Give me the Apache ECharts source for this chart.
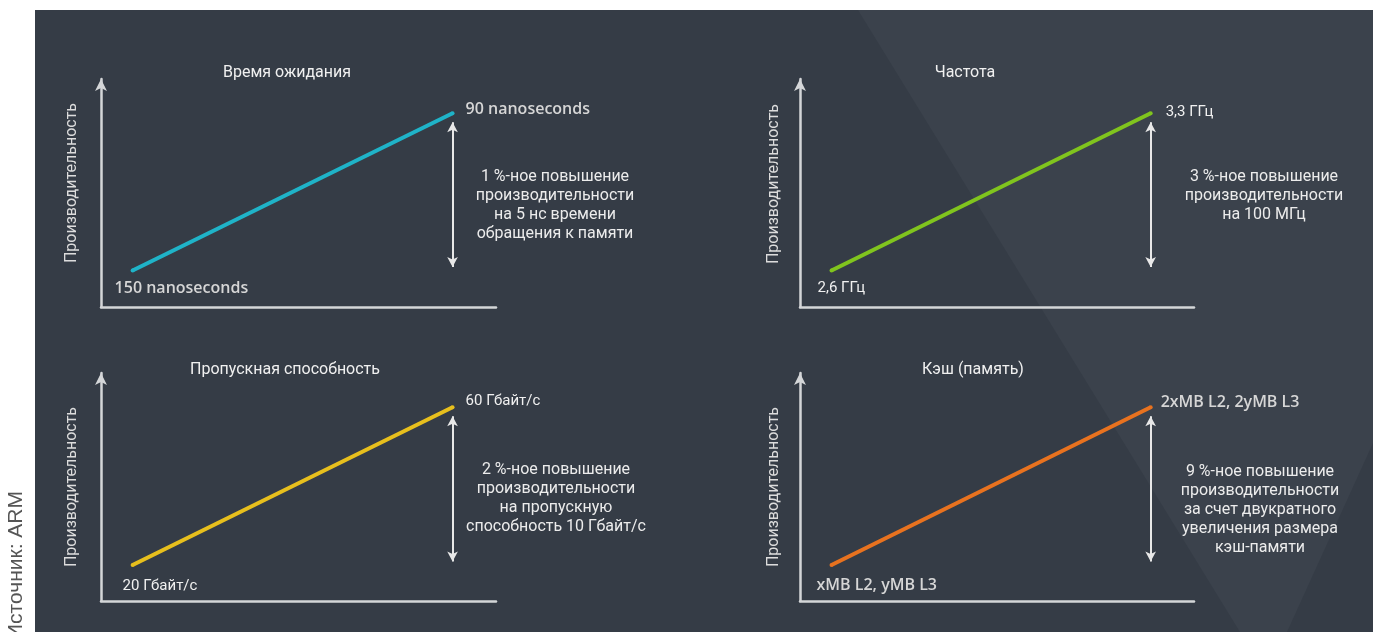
<!DOCTYPE html>
<html>
<head>
<meta charset="utf-8">
<style>html,body{margin:0;padding:0;background:#fff;}#c{width:1373px;height:632px;}</style>
<script src="https://cdn.jsdelivr.net/npm/echarts@6/dist/echarts.min.js"></script>
</head>
<body>
<div id="c"></div>
<script>
// ---- data ----
const titles = ['Время ожидания', 'Частота', 'Пропускная способность', 'Кэш (память)'];
const yAxisName = 'Производительность';
const lowLabels = ['150 nanoseconds', '2,6 ГГц', '20 Гбайт/с', 'xMB L2, yMB L3'];
const highLabels = ['90 nanoseconds', '3,3 ГГц', '60 Гбайт/с', '2xMB L2, 2yMB L3'];
const notes = [
  '1 %-ное повышение\nпроизводительности\nна 5 нс времени\nобращения к памяти',
  '3 %-ное повышение\nпроизводительности\nна 100 МГц',
  '2 %-ное повышение\nпроизводительности\nна пропускную\nспособность 10 Гбайт/с',
  '9 %-ное повышение\nпроизводительности\nза счет двукратного\nувеличения размера\nкэш-памяти'
];
// relative positions (0-100) on the schematic axes
const xLow = [8, 8, 8, 8];
const xHigh = [89, 89, 89, 89];
const perfLow = [16, 16, 15.8, 15.8];
const perfHigh = [85, 85, 85, 85];
const source = 'Источник: ARM';

// ---- styles / layout ----
const lineColors = ['#1fb3c8', '#80c41e', '#e7bf1d', '#e8721f'];
const grids = [
  {left: 101, top: 79, width: 395, height: 228},
  {left: 800, top: 79, width: 394, height: 228},
  {left: 101, top: 373, width: 395, height: 228},
  {left: 800, top: 373, width: 394, height: 228}
];
const titleX = [282, 960, 280, 968];
const titleTop = [60, 60, 357, 357];
const noteX = [555, 1264, 556, 1260];
const noteTop = [167, 167, 460, 462];
const nameGaps = [21, 18, 21, 18];
const namePad = [20, 18, 0, 0];
const lowOffset = [[-18, 3], [-14, 3], [-10, 7], [-15, 5]];
const highOffset = [[6, -4], [8, -1], [6, -6], [3, -5]];
const calibriLike = [true, false, false, true];

const chart = echarts.init(document.getElementById('c'), null, {renderer: 'canvas'});

const axisLineColor = '#d4d6d8';
const xAxes = [], yAxes = [], series = [], titleArr = [], graphics = [];

graphics.push({type: 'rect', z: -10, silent: true, shape: {x: 35, y: 10, width: 1373 - 35, height: 632 - 10}, style: {fill: '#353c46'}});
graphics.push({type: 'polygon', z: -9, silent: true, shape: {points: [[858, 10], [1373, 10], [1373, 443], [1287, 632], [1240, 632]]}, style: {fill: '#3b424c'}});
graphics.push({type: 'text', z: 5, silent: true, rotation: Math.PI / 2, x: 6, y: 639,
  style: {text: source, font: '300 21px "Liberation Sans", Arial, sans-serif', fill: '#555555', textAlign: 'left', textVerticalAlign: 'top'}});

for (let i = 0; i < 4; i++) {
  xAxes.push({
    type: 'value', gridIndex: i, min: 0, max: 100,
    axisLine: {show: true, lineStyle: {color: axisLineColor, width: 2.5}},
    axisTick: {show: false}, axisLabel: {show: false}, splitLine: {show: false}
  });
  yAxes.push({
    type: 'value', gridIndex: i, min: 0, max: 100,
    name: yAxisName, nameLocation: 'middle', nameRotate: 90, nameGap: nameGaps[i],
    nameTextStyle: {color: '#dcdcdc', fontSize: 16, fontFamily: 'Roboto', padding: [0, 0, 0, namePad[i]]},
    axisLine: {show: true, symbol: ['none', 'arrow'], symbolSize: [9, 12], lineStyle: {color: axisLineColor, width: 2.5}},
    axisTick: {show: false}, axisLabel: {show: false}, splitLine: {show: false}
  });
  const labFont = calibriLike[i]
    ? {fontFamily: '"Open Sans", sans-serif', fontWeight: 600, fontSize: 16, color: '#d6d6d6'}
    : {fontFamily: 'Roboto, sans-serif', fontSize: 15, color: '#f0f0f0'};
  series.push({
    type: 'line', xAxisIndex: i, yAxisIndex: i,
    symbol: 'circle', symbolSize: 4, showSymbol: true,
    lineStyle: {color: lineColors[i], width: 4},
    itemStyle: {color: lineColors[i]},
    emphasis: {disabled: true}, silent: true, animation: false,
    data: [
      {value: [xLow[i], perfLow[i]], label: Object.assign({show: true, formatter: lowLabels[i], position: 'bottom', align: 'left', offset: lowOffset[i]}, labFont)},
      {value: [xHigh[i], perfHigh[i]], label: Object.assign({show: true, formatter: highLabels[i], position: 'right', offset: highOffset[i]}, labFont)}
    ],
    markLine: {
      silent: true, animation: false,
      symbol: ['arrow', 'arrow'], symbolSize: [8, 10],
      label: {show: false},
      lineStyle: {color: '#e8e8e8', width: 2, type: 'solid'},
      data: [[{coord: [xHigh[i], perfHigh[i] - 4]}, {coord: [xHigh[i], perfLow[i] + 1.5]}]]
    }
  });
  titleArr.push({
    text: titles[i], left: titleX[i], top: titleTop[i], textAlign: 'center',
    textStyle: {color: '#f0f0f0', fontSize: 16, fontWeight: 'normal', fontFamily: 'Roboto, sans-serif'}
  });
  graphics.push({type: 'text', z: 5, silent: true, x: noteX[i], y: noteTop[i],
    style: {text: notes[i], font: '16px Roboto, sans-serif', fill: '#ececec', textAlign: 'center', textVerticalAlign: 'top', lineHeight: 19}});
}

chart.setOption({
  backgroundColor: '#ffffff',
  animation: false,
  title: titleArr,
  grid: grids,
  xAxis: xAxes,
  yAxis: yAxes,
  series: series,
  graphic: graphics
});
</script>
</body>
</html>
